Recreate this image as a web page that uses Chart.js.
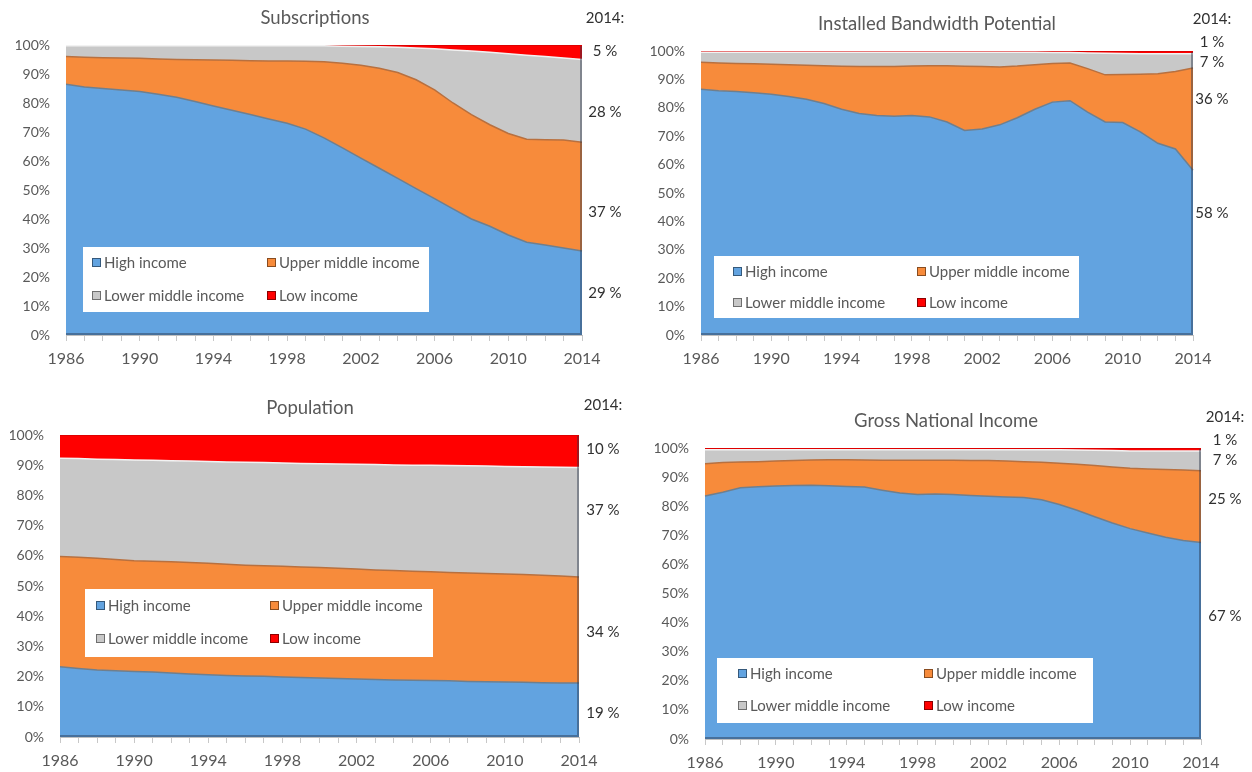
<!DOCTYPE html>
<html>
<head>
<meta charset="utf-8">
<script src="https://cdn.jsdelivr.net/npm/chart.js@4.4.1/dist/chart.umd.min.js"></script>
<style>
html, body { margin: 0; padding: 0; background: #fff; }
#wrap { position: relative; width: 1252px; height: 772px; }
#wrap canvas { position: absolute; left: 0; top: 0; }
</style>
</head>
<body>
<div id="wrap">
  <canvas id="c1" width="1252" height="772"></canvas>
  <canvas id="c2" width="1252" height="772"></canvas>
  <canvas id="c3" width="1252" height="772"></canvas>
  <canvas id="c4" width="1252" height="772"></canvas>
</div>
<script>
// shares of world total by income group, in %
const years = [1986, 1987, 1988, 1989, 1990, 1991, 1992, 1993, 1994, 1995, 1996, 1997, 1998, 1999, 2000,
               2001, 2002, 2003, 2004, 2005, 2006, 2007, 2008, 2009, 2010, 2011, 2012, 2013, 2014];
const groupNames = ["High income", "Upper middle income", "Lower middle income", "Low income"];
const yTicks = [0, 10, 20, 30, 40, 50, 60, 70, 80, 90, 100];

const subsHigh = [86.5, 85.5, 85, 84.5, 84, 83, 82, 80.5, 79, 77.5, 76, 74.5, 73, 71, 68, 64.5, 61, 57.5, 54, 50.5, 47, 43.5, 40, 37.5, 34.5, 32, 31, 30, 29];
const subsUpperMid = [9.5, 10.3, 10.6, 11, 11.4, 12.2, 13, 14.4, 15.8, 17.2, 18.6, 20, 21.5, 23.4, 26.2, 29.2, 32, 34.5, 36.5, 37.5, 37.5, 36.5, 36, 35, 35, 35.5, 36.3, 37.2, 37.5];
const subsLowerMid = [3.7, 3.9, 4.1, 4.2, 4.3, 4.5, 4.7, 4.8, 4.9, 5.0, 5.1, 5.2, 5.2, 5.3, 5.5, 5.9, 6.5, 7.4, 8.7, 11, 14.2, 18.3, 21.9, 25, 27.5, 29, 28.7, 28.3, 28.5];
const subsLow = [0.3, 0.3, 0.3, 0.3, 0.3, 0.3, 0.3, 0.3, 0.3, 0.3, 0.3, 0.3, 0.3, 0.3, 0.3, 0.4, 0.5, 0.6, 0.8, 1, 1.3, 1.7, 2.1, 2.5, 3, 3.5, 4, 4.5, 5];
const subsEndLabels = ["5 %", "28 %", "37 %", "29 %"];

const bwHigh = [86.5, 86, 85.7, 85.3, 84.8, 84, 83, 81.5, 79.5, 78, 77.3, 77, 77.3, 76.8, 75, 72, 72.5, 74, 76.5, 79.5, 82, 82.5, 78.5, 75, 74.8, 71.5, 67.5, 65.5, 58];
const bwUpperMid = [9.5, 9.8, 9.9, 10.2, 10.5, 11.2, 12, 13.3, 15.1, 16.5, 17.2, 17.5, 17.4, 18, 19.8, 22.6, 22, 20.4, 18.2, 15.7, 13.6, 13.3, 15.3, 16.6, 16.9, 20.3, 24.5, 27.3, 36];
const bwLowerMid = [3.6, 3.8, 4.0, 4.1, 4.3, 4.4, 4.6, 4.8, 5.0, 5.1, 5.1, 5.1, 4.9, 4.8, 4.8, 5.0, 5.1, 5.2, 4.9, 4.4, 3.9, 3.7, 5.5, 7.6, 7.4, 7.2, 7.0, 6.2, 5.0];
const bwLow = [0.4, 0.4, 0.4, 0.4, 0.4, 0.4, 0.4, 0.4, 0.4, 0.4, 0.4, 0.4, 0.4, 0.4, 0.4, 0.4, 0.4, 0.4, 0.4, 0.4, 0.5, 0.5, 0.7, 0.8, 0.9, 1, 1, 1, 1];
const bwEndLabels = ["1 %", "7 %", "36 %", "58 %"];

const popHigh = [23.3, 22.7, 22.2, 21.9, 21.7, 21.5, 21.2, 20.9, 20.6, 20.4, 20.2, 20.1, 19.9, 19.7, 19.5, 19.4, 19.2, 19, 18.9, 18.8, 18.7, 18.6, 18.4, 18.3, 18.2, 18.1, 18, 17.9, 17.9];
const popUpperMid = [36.5, 36.8, 37, 36.9, 36.7, 36.7, 36.8, 36.9, 36.9, 36.8, 36.7, 36.6, 36.6, 36.6, 36.6, 36.5, 36.4, 36.3, 36.2, 36.1, 36, 35.9, 35.9, 35.8, 35.8, 35.7, 35.6, 35.4, 35.1];
const popLowerMid = [32.5, 32.7, 32.8, 33.1, 33.3, 33.4, 33.5, 33.6, 33.7, 33.9, 34.1, 34.2, 34.2, 34.3, 34.4, 34.5, 34.7, 34.9, 35, 35.1, 35.3, 35.4, 35.5, 35.6, 35.6, 35.7, 35.8, 36, 36.2];
const popLow = [7.7, 7.8, 8, 8.1, 8.3, 8.4, 8.5, 8.6, 8.8, 8.9, 9, 9.1, 9.3, 9.4, 9.5, 9.6, 9.7, 9.8, 9.9, 10, 10, 10.1, 10.2, 10.3, 10.4, 10.5, 10.6, 10.7, 10.8];
const popEndLabels = ["10 %", "37 %", "34 %", "19 %"];

const gniHigh = [83.5, 84.8, 86.3, 86.7, 86.9, 87.1, 87.2, 87, 86.8, 86.6, 85.5, 84.5, 84, 84.2, 84, 83.7, 83.4, 83.2, 83, 82.2, 80.6, 78.6, 76.4, 74.2, 72.3, 70.8, 69.3, 68.2, 67.5];
const gniUpperMid = [11.1, 10.2, 8.9, 8.6, 8.6, 8.6, 8.7, 9, 9.2, 9.3, 10.3, 11.3, 11.8, 11.6, 11.8, 12, 12.3, 12.3, 12.3, 12.9, 14.2, 15.8, 17.6, 19.3, 20.7, 22, 23.3, 24.2, 24.7];
const gniLowerMid = [4.8, 4.4, 4.2, 4.1, 3.9, 3.7, 3.5, 3.4, 3.4, 3.5, 3.6, 3.6, 3.6, 3.6, 3.6, 3.7, 3.7, 3.9, 4.1, 4.3, 4.6, 4.9, 5.2, 5.6, 6, 6.2, 6.4, 6.6, 6.8];
const gniLow = [0.6, 0.6, 0.6, 0.6, 0.6, 0.6, 0.6, 0.6, 0.6, 0.6, 0.6, 0.6, 0.6, 0.6, 0.6, 0.6, 0.6, 0.6, 0.6, 0.6, 0.6, 0.7, 0.8, 0.9, 1, 1, 1, 1, 1];
const gniEndLabels = ["1 %", "7 %", "25 %", "67 %"];

const FONT = "Lato, 'Open Sans', sans-serif";
const fills = ["#62a3e0", "#f78b3b", "#c8c8c8", "#ff0000"];
const edges = ["#6f7f8e", "#b8703f", "#f2f2f2", "#d40000"];

// page layout of each panel (pixels)
const panels = [
    { id: "c1", title: "Subscriptions", series: [subsHigh, subsUpperMid, subsLowerMid, subsLow], endLabels: subsEndLabels,
      area: { l: 66, r: 582, t: 45, b: 335 }, titleAt: [315, 18], noteX: 605, noteY: [18, 51, 112, 212, 293],
      legend: { x: 83, y: 247, w: 346, h: 65, c1: 92, c2: 267, r1: 263, r2: 296 } },
    { id: "c2", title: "Installed Bandwidth Potential", series: [bwHigh, bwUpperMid, bwLowerMid, bwLow], endLabels: bwEndLabels,
      area: { l: 701, r: 1193, t: 51, b: 335 }, titleAt: [937, 24], noteX: 1212, noteY: [19, 42, 62, 99, 213],
      legend: { x: 714, y: 256, w: 365, h: 62, c1: 733, c2: 917, r1: 272, r2: 303 } },
    { id: "c3", title: "Population", series: [popHigh, popUpperMid, popLowerMid, popLow], endLabels: popEndLabels,
      area: { l: 60, r: 579, t: 435, b: 737 }, titleAt: [310, 408], noteX: 603, noteY: [405, 449, 510, 632, 713],
      legend: { x: 85, y: 589, w: 348, h: 68, c1: 96, c2: 270, r1: 606, r2: 639 } },
    { id: "c4", title: "Gross National Income", series: [gniHigh, gniUpperMid, gniLowerMid, gniLow], endLabels: gniEndLabels,
      area: { l: 705, r: 1201, t: 448, b: 739 }, titleAt: [946, 421], noteX: 1225, noteY: [417, 440, 460, 499, 616],
      legend: { x: 717, y: 658, w: 376, h: 65, c1: 738, c2: 924, r1: 674, r2: 706 } },
];

const panelDecor = {
    id: "panelDecor",
    afterDatasetsDraw(chart) {
        // bevel shadow on the right and bottom side of the stack
        const { ctx, chartArea: ca } = chart;
        ctx.save();
        ctx.strokeStyle = "rgba(40,50,70,0.45)";
        ctx.lineWidth = 2;
        ctx.beginPath();
        ctx.moveTo(ca.right - 1, ca.top + 1);
        ctx.lineTo(ca.right - 1, ca.bottom - 1);
        ctx.lineTo(ca.left, ca.bottom - 1);
        ctx.stroke();
        ctx.restore();
    },
    afterDraw(chart, args, opts) {
        const p = opts.panel;
        if (!p) return;
        const ctx = chart.ctx;
        ctx.save();
        ctx.textBaseline = "middle";
        ctx.textAlign = "center";
        ctx.fillStyle = "#595959";
        ctx.font = "18.5px " + FONT;
        ctx.fillText(p.title, p.titleAt[0], p.titleAt[1]);

        ctx.fillStyle = "#303030";
        ctx.font = "15px " + FONT;
        ctx.fillText("2014:", p.noteX, p.noteY[0]);
        p.endLabels.forEach((t, i) => ctx.fillText(t, p.noteX, p.noteY[i + 1]));

        // legend box inside the plot
        const L = p.legend;
        ctx.fillStyle = "#ffffff";
        ctx.fillRect(L.x, L.y, L.w, L.h);
        ctx.font = "15px " + FONT;
        ctx.textAlign = "left";
        chart.data.datasets.forEach((ds, i) => {
            const mx = i % 2 ? L.c2 : L.c1;
            const my = i < 2 ? L.r1 : L.r2;
            ctx.fillStyle = ds.backgroundColor;
            ctx.fillRect(mx, my - 5, 9, 9);
            ctx.strokeStyle = "rgba(0,0,0,0.45)";
            ctx.lineWidth = 1;
            ctx.strokeRect(mx + 0.5, my - 4.5, 8, 8);
            ctx.fillStyle = "#595959";
            ctx.fillText(ds.label, mx + 12, my);
        });
        ctx.restore();
    }
};

function makeChart(p) {
    const a = p.area;
    const datasets = p.series.map((values, i) => ({
        label: groupNames[i],
        data: values,
        backgroundColor: fills[i],
        borderColor: edges[i],
        borderWidth: 1.5,
        pointRadius: 0,
        tension: 0,
        fill: i === 0 ? "origin" : "-1",
    }));
    return new Chart(document.getElementById(p.id), {
        type: "line",
        data: { labels: years, datasets },
        options: {
            responsive: false,
            animation: false,
            events: [],
            layout: { padding: { left: a.l - 50, right: 1252 - a.r, top: a.t, bottom: 772 - a.b - 36 } },
            scales: {
                x: {
                    type: "category",
                    offset: false,
                    grid: { display: true, drawOnChartArea: false, drawTicks: true, tickLength: 6, color: "#c8c8c8" },
                    border: { display: true, color: "#bfbfbf" },
                    ticks: {
                        autoSkip: false, maxRotation: 0, padding: 8, color: "#595959",
                        font: { family: FONT, size: 16 },
                        callback(v, i) { return i % 4 === 0 ? String(years[i]) : ""; }
                    },
                    afterFit(s) { s.height = 36; }
                },
                y: {
                    stacked: true,
                    min: 0, max: 100,
                    afterBuildTicks(s) { s.ticks = yTicks.map(v => ({ value: v })); },
                    grid: { display: false, drawTicks: false },
                    border: { display: false },
                    ticks: { padding: 16, color: "#595959", font: { family: FONT, size: 14 }, callback: v => v + "%" },
                    afterFit(s) { s.width = 50; }
                }
            },
            plugins: {
                legend: { display: false },
                tooltip: { enabled: false },
                panelDecor: { panel: p }
            }
        },
        plugins: [panelDecor]
    });
}

panels.forEach(makeChart);
</script>
</body>
</html>
